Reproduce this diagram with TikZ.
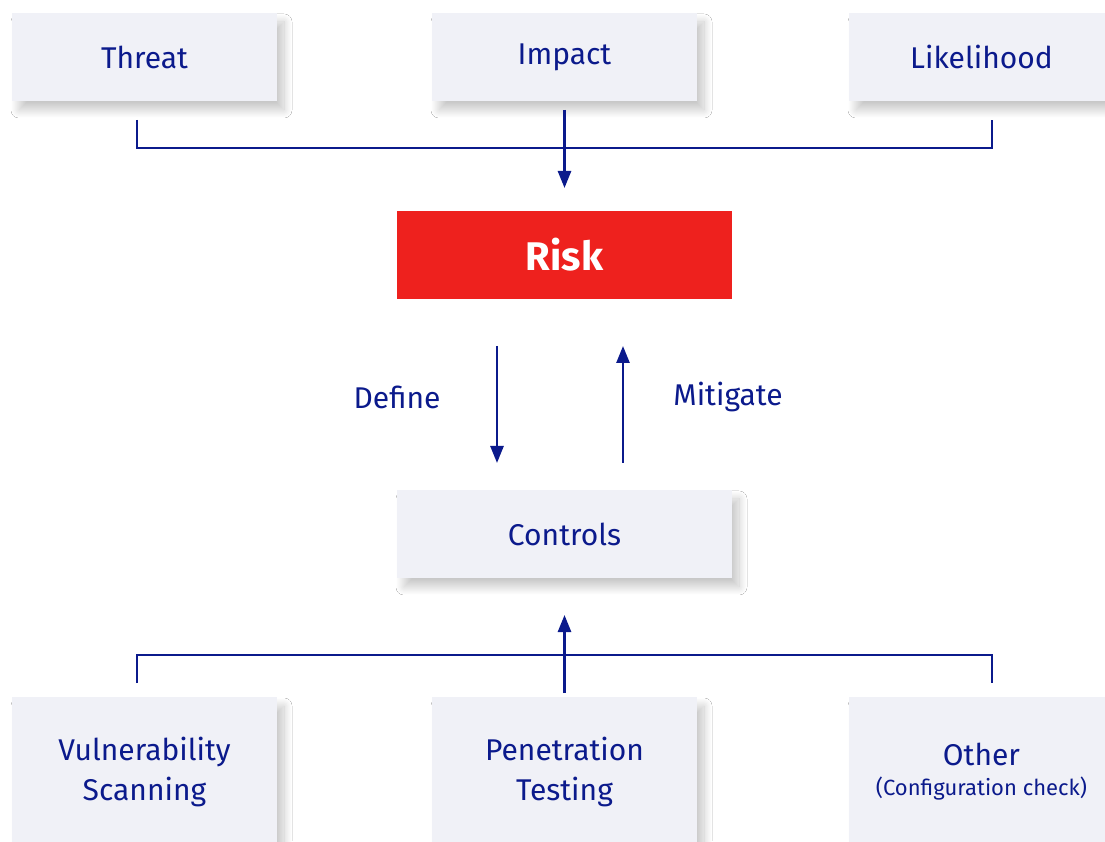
\documentclass[tikz,border=0pt]{standalone}
\usepackage{fontspec}
\setmainfont{Fira Sans}
\usetikzlibrary{shadows.blur,arrows.meta}
\definecolor{navy}{HTML}{0B1A8C}
\definecolor{boxfill}{HTML}{F0F1F7}
\definecolor{riskred}{HTML}{EE211E}
\tikzset{
  x=1pt,y=1pt,
  plain/.style={draw=none, text=navy, font=\fontsize{30}{36}\selectfont,
    minimum width=265pt, minimum height=88pt, align=center, inner sep=0pt},
  card/.style={plain, fill=boxfill,
    blur shadow={shadow xshift=7pt, shadow yshift=-9pt, shadow blur steps=20, shadow blur radius=8pt, shadow opacity=22}},
  tallcard/.style={card, minimum height=150pt},
  widecard/.style={card, minimum width=335pt},
  conn/.style={draw=navy, line width=2.6pt},
  arr/.style={conn, -{Triangle[width=13pt,length=17pt]}},
  lbl/.style={text=navy, font=\fontsize{30}{36}\selectfont}
}
\begin{document}
\begin{tikzpicture}
\useasboundingbox (0,0) rectangle (1105,841);
\clip (0,0) rectangle (1105,841);
\fill[white] (0,0) rectangle (1105,841);
% top row
\node[card] (threat) at (144.5,784) {Threat};
\node[card] (impact) at (564.5,784) {Impact};
\node[card] (like) at (981.5,784) {Likelihood};
% center
\node[plain, minimum width=335pt, fill=riskred, text=white, font=\fontsize{40}{48}\selectfont\bfseries] (risk) at (564.5,586) {Risk};
\node[widecard] (controls) at (564.5,307) {Controls};
% bottom row
\node[tallcard] (vuln) at (144.5,69) {Vulnerability\\[4pt]Scanning};
\node[tallcard] (pen) at (564.5,69) {Penetration\\[4pt]Testing};
\node[tallcard] (other) at (981.5,69) {Other\\[-6pt]{\fontsize{22}{26}\selectfont (Configuration check)}};
% top connector
\coordinate (tl) at (137,721);
\coordinate (tr) at (992,721);
\coordinate (tb) at (564.5,693);
\coordinate (ia) at (564.5,731);
\coordinate (ib) at (564.5,653);
\draw[conn] (tl) |- (tb) -| (tr);
\draw[arr] (ia) -- (ib);
% define / mitigate
\coordinate (d1) at (497,495);
\coordinate (d2) at (497,378);
\coordinate (m1) at (623,378);
\coordinate (m2) at (623,495);
\draw[arr] (d1) -- (d2);
\draw[arr] (m1) -- (m2);
\node[lbl] (define) at (397,444) {Define};
\node[lbl] (mitigate) at (728,444) {Mitigate};
% bottom connector
\coordinate (bl) at (137,158);
\coordinate (br) at (992,158);
\coordinate (bb) at (564.5,186);
\coordinate (pa) at (564.5,148);
\coordinate (pb) at (564.5,226);
\draw[conn] (bl) |- (bb) -| (br);
\draw[arr] (pa) -- (pb);
\end{tikzpicture}
\end{document}
